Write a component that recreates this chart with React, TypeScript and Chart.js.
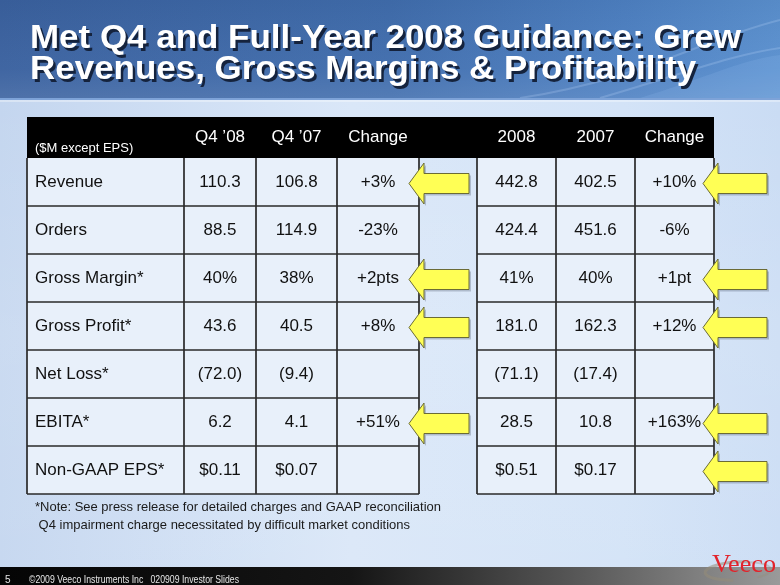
import React, { useEffect, useRef } from "react";
import { Chart, registerables } from "chart.js";

Chart.register(...registerables);

// ---- data ----
const titleLines = [
  "Met Q4 and Full-Year 2008 Guidance: Grew",
  "Revenues, Gross Margins & Profitability",
];
const unitLabel = "($M except EPS)";
const headers = ["Q4 \u201908", "Q4 \u201907", "Change", "2008", "2007", "Change"];
const rows = [
  "Revenue",
  "Orders",
  "Gross Margin*",
  "Gross Profit*",
  "Net Loss*",
  "EBITA*",
  "Non-GAAP EPS*",
];
const q408 = ["110.3", "88.5", "40%", "43.6", "(72.0)", "6.2", "$0.11"];
const q407 = ["106.8", "114.9", "38%", "40.5", "(9.4)", "4.1", "$0.07"];
const qChange = ["+3%", "-23%", "+2pts", "+8%", "", "+51%", ""];
const y2008 = ["442.8", "424.4", "41%", "181.0", "(71.1)", "28.5", "$0.51"];
const y2007 = ["402.5", "451.6", "40%", "162.3", "(17.4)", "10.8", "$0.17"];
const yChange = ["+10%", "-6%", "+1pt", "+12%", "", "+163%", ""];
const quarterArrows = [true, false, true, true, false, true, false];
const yearArrows = [true, false, true, true, false, true, true];
const notes = [
  "*Note: See press release for detailed charges and GAAP reconciliation",
  " Q4 impairment charge necessitated by difficult market conditions",
];
const footerPage = "5";
const footerText = "\u00A92009 Veeco Instruments Inc   020909 Investor Slides";
const logoText = "Veeco";

// ---- layout (positions / styles only) ----
const W = 780;
const H = 585;
const leftEdges = [27, 184, 256, 337, 419];
const rightEdges = [477, 556, 635, 714];
const headerTop = 117;
const tableTop = 158;
const tableBottom = 494;
const FONT = '"Liberation Sans", Arial, sans-serif';

const columns = [
  { x0: leftEdges[0], x1: leftEdges[1], vals: rows, align: "left" },
  { x0: leftEdges[1], x1: leftEdges[2], vals: q408, align: "center" },
  { x0: leftEdges[2], x1: leftEdges[3], vals: q407, align: "center" },
  { x0: leftEdges[3], x1: leftEdges[4], vals: qChange, align: "center" },
  { x0: rightEdges[0], x1: rightEdges[1], vals: y2008, align: "center" },
  { x0: rightEdges[1], x1: rightEdges[2], vals: y2007, align: "center" },
  { x0: rightEdges[2], x1: rightEdges[3], vals: yChange, align: "center" },
];

function fitText(ctx: CanvasRenderingContext2D, text: string, x: number, y: number, width: number) {
  const w = ctx.measureText(text).width || 1;
  ctx.save();
  ctx.translate(x, y);
  ctx.scale(width / w, 1);
  ctx.fillText(text, 0, 0);
  ctx.restore();
}

function drawArrow(ctx: CanvasRenderingContext2D, tipX: number, cy: number, len: number) {
  const head = 15;
  const hh = 20.5;
  const sh = 10;
  const path = (dx: number, dy: number) => {
    ctx.beginPath();
    ctx.moveTo(tipX + dx, cy + dy);
    ctx.lineTo(tipX + head + dx, cy - hh + dy);
    ctx.lineTo(tipX + head + dx, cy - sh + dy);
    ctx.lineTo(tipX + len + dx, cy - sh + dy);
    ctx.lineTo(tipX + len + dx, cy + sh + dy);
    ctx.lineTo(tipX + head + dx, cy + sh + dy);
    ctx.lineTo(tipX + head + dx, cy + hh + dy);
    ctx.closePath();
  };
  ctx.save();
  path(2, 2);
  ctx.fillStyle = "rgba(40,50,70,0.25)";
  ctx.fill();
  path(0, 0);
  ctx.fillStyle = "#ffff55";
  ctx.fill();
  ctx.lineWidth = 1;
  ctx.strokeStyle = "#6b6b35";
  ctx.stroke();
  ctx.restore();
}

const slidePlugin = {
  id: "slide",
  beforeDraw(chart: any) {
    const ctx: CanvasRenderingContext2D = chart.ctx;
    ctx.save();
    // body background
    const bg = ctx.createLinearGradient(0, 0, W, 0);
    bg.addColorStop(0, "#c4d6ef");
    bg.addColorStop(0.45, "#dae7f8");
    bg.addColorStop(0.8, "#d3e3f7");
    bg.addColorStop(1, "#cadcf4");
    ctx.fillStyle = bg;
    ctx.fillRect(0, 0, W, H);
    const bgv = ctx.createLinearGradient(0, 100, 0, 567);
    bgv.addColorStop(0, "rgba(255,255,255,0.0)");
    bgv.addColorStop(0.5, "rgba(255,255,255,0.12)");
    bgv.addColorStop(1, "rgba(255,255,255,0.05)");
    ctx.fillStyle = bgv;
    ctx.fillRect(0, 100, W, 467);

    // header band
    const band = ctx.createLinearGradient(0, 0, W, 0);
    band.addColorStop(0, "#3a619f");
    band.addColorStop(0.5, "#406dad");
    band.addColorStop(0.8, "#4d80c2");
    band.addColorStop(1, "#5a90cf");
    ctx.fillStyle = band;
    ctx.fillRect(0, 0, W, 98);
    const bandV = ctx.createLinearGradient(0, 0, 0, 98);
    bandV.addColorStop(0, "rgba(0,0,0,0.04)");
    bandV.addColorStop(0.7, "rgba(255,255,255,0.03)");
    bandV.addColorStop(1, "rgba(255,255,255,0.10)");
    ctx.fillStyle = bandV;
    ctx.fillRect(0, 0, W, 98);
    // swooshes
    ctx.strokeStyle = "rgba(200,225,255,0.22)";
    ctx.lineWidth = 2;
    ctx.beginPath();
    ctx.moveTo(520, 98);
    ctx.bezierCurveTo(640, 80, 700, 40, 780, 20);
    ctx.stroke();
    ctx.beginPath();
    ctx.moveTo(600, 98);
    ctx.bezierCurveTo(680, 75, 730, 55, 780, 48);
    ctx.stroke();
    ctx.fillStyle = "rgba(160,200,245,0.15)";
    ctx.beginPath();
    ctx.moveTo(640, 98);
    ctx.bezierCurveTo(700, 80, 740, 60, 780, 55);
    ctx.lineTo(780, 98);
    ctx.closePath();
    ctx.fill();
    ctx.fillStyle = "#7ea3d8";
    ctx.fillRect(0, 98, W, 2);
    ctx.fillStyle = "rgba(255,255,255,0.35)";
    ctx.fillRect(0, 100, W, 2);

    // title
    ctx.font = `bold 33px ${FONT}`;
    ctx.textBaseline = "alphabetic";
    ctx.textAlign = "left";
    const s = 711 / ctx.measureText(titleLines[0]).width;
    const titleY = [48, 79];
    titleLines.forEach((t, i) => {
      const w = ctx.measureText(t).width * s;
      ctx.fillStyle = "#15233d";
      fitText(ctx, t, 32.5, titleY[i] + 2.5, w);
      ctx.fillStyle = "#ffffff";
      fitText(ctx, t, 30, titleY[i], w);
    });

    // footer bar
    const fb = ctx.createLinearGradient(0, 0, W, 0);
    fb.addColorStop(0, "#050505");
    fb.addColorStop(0.45, "#151515");
    fb.addColorStop(0.75, "#5a5a5a");
    fb.addColorStop(1, "#9a9a9a");
    ctx.fillStyle = fb;
    ctx.fillRect(0, 567, W, 18);
    ctx.restore();
  },
  afterDatasetsDraw(chart: any) {
    const ctx: CanvasRenderingContext2D = chart.ctx;
    const yScale = chart.scales.y;
    const area = chart.chartArea;
    ctx.save();

    // header row
    ctx.fillStyle = "#000000";
    ctx.fillRect(leftEdges[0], headerTop, rightEdges[3] - leftEdges[0], area.top - headerTop);
    ctx.fillStyle = "#ffffff";
    ctx.textBaseline = "middle";
    ctx.font = `13px ${FONT}`;
    ctx.textAlign = "left";
    ctx.fillText(unitLabel, leftEdges[0] + 8, 148);
    ctx.font = `17px ${FONT}`;
    ctx.textAlign = "center";
    headers.forEach((h, i) => {
      const c = columns[i + 1];
      ctx.fillText(h, (c.x0 + c.x1) / 2, 137.5);
    });

    // grid lines
    ctx.strokeStyle = "#2a2a2a";
    ctx.lineWidth = 1.7;
    const band = yScale.getPixelForValue(1) - yScale.getPixelForValue(0);
    const lineYs: number[] = [];
    rows.forEach((_, i) => lineYs.push(yScale.getPixelForValue(i) - band / 2));
    lineYs.push(yScale.getPixelForValue(rows.length - 1) + band / 2);
    const top = lineYs[0];
    const bottom = lineYs[lineYs.length - 1];
    [leftEdges, rightEdges].forEach((edges) => {
      const x0 = edges[0];
      const x1 = edges[edges.length - 1];
      ctx.beginPath();
      lineYs.forEach((y, i) => {
        if (i === 0) return;
        ctx.moveTo(x0, y);
        ctx.lineTo(x1, y);
      });
      edges.forEach((x) => {
        ctx.moveTo(x, top);
        ctx.lineTo(x, bottom);
      });
      ctx.stroke();
    });

    // cell text
    ctx.fillStyle = "#111111";
    ctx.font = `17px ${FONT}`;
    ctx.textBaseline = "middle";
    columns.forEach((c) => {
      c.vals.forEach((v, i) => {
        const y = yScale.getPixelForValue(i);
        if (c.align === "left") {
          ctx.textAlign = "left";
          ctx.fillText(v, c.x0 + 8, y);
        } else {
          ctx.textAlign = "center";
          ctx.fillText(v, (c.x0 + c.x1) / 2, y);
        }
      });
    });

    // arrows
    rows.forEach((_, i) => {
      const y = yScale.getPixelForValue(i) + 1.5;
      if (quarterArrows[i]) drawArrow(ctx, 409, y, 60);
      if (yearArrows[i]) drawArrow(ctx, 703, y, 64);
    });

    // notes
    ctx.fillStyle = "#1a1a1a";
    ctx.font = `13px ${FONT}`;
    ctx.textAlign = "left";
    ctx.textBaseline = "middle";
    fitText(ctx, notes[0], 35, area.bottom + 13, 406);
    fitText(ctx, notes[1], 35, area.bottom + 31, 375);

    // footer text
    ctx.fillStyle = "#e6e6e6";
    ctx.font = `10px ${FONT}`;
    ctx.fillText(footerPage, 5, 580);
    fitText(ctx, footerText, 29, 580, 210);

    // logo
    ctx.strokeStyle = "rgba(150,140,120,0.55)";
    ctx.lineWidth = 3;
    ctx.beginPath();
    ctx.ellipse(738, 571, 33, 9, -0.05, Math.PI * 0.55, Math.PI * 1.6);
    ctx.stroke();
    ctx.strokeStyle = "rgba(150,140,120,0.35)";
    ctx.lineWidth = 2;
    ctx.beginPath();
    ctx.ellipse(738, 571, 33, 9, -0.05, Math.PI * 1.6, Math.PI * 2.3);
    ctx.stroke();
    ctx.fillStyle = "#e2232b";
    ctx.font = `25px "Liberation Serif", "Times New Roman", serif`;
    ctx.textBaseline = "alphabetic";
    fitText(ctx, logoText, 712, 572, 64);

    ctx.restore();
  },
};

export default function App() {
  const ref = useRef<HTMLCanvasElement | null>(null);
  useEffect(() => {
    document.body.style.margin = "0";
    const canvas = ref.current;
    if (!canvas) return;
    const chart = new Chart(canvas, {
      type: "bar",
      data: {
        labels: rows,
        datasets: columns.map((c) => ({
          label: c.vals === rows ? "label" : "col",
          data: rows.map(() => [c.x0, c.x1]),
          backgroundColor: "#e8f0fa",
          borderWidth: 0,
          grouped: false,
          barPercentage: 1,
          categoryPercentage: 1,
        })) as any,
      },
      options: {
        indexAxis: "y",
        animation: false,
        responsive: false,
        devicePixelRatio: 1,
        events: [],
        layout: { padding: { top: tableTop, bottom: H - tableBottom, left: 0, right: 0 } },
        scales: {
          x: { type: "linear", min: 0, max: W, display: false },
          y: { type: "category", display: false, offset: true },
        },
        plugins: { legend: { display: false }, tooltip: { enabled: false } },
      },
      plugins: [slidePlugin],
    });
    return () => chart.destroy();
  }, []);
  return (
    <div style={{ position: "fixed", left: 0, top: 0, width: W, height: H }}>
      <canvas ref={ref} width={W} height={H} style={{ display: "block" }} />
    </div>
  );
}
